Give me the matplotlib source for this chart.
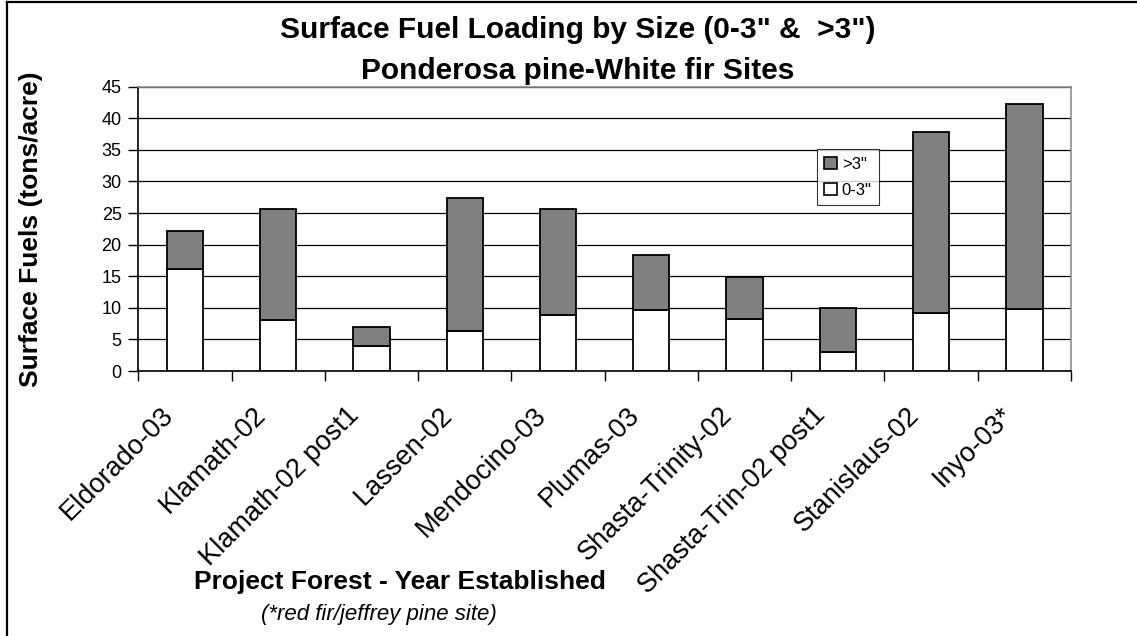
import matplotlib
matplotlib.use("Agg")
import matplotlib.pyplot as plt
import numpy as np
from matplotlib.lines import Line2D
from matplotlib.patches import Patch

plt.rcParams['font.family'] = ['Liberation Sans', 'DejaVu Sans']

# Surface fuel loading per site (tons/acre)
sites = ["Eldorado-03", "Klamath-02", "Klamath-02 post1", "Lassen-02", "Mendocino-03",
         "Plumas-03", "Shasta-Trinity-02", "Shasta-Trin-02 post1", "Stanislaus-02", "Inyo-03*"]
fine_0_3 = [16.2, 8.0, 4.0, 6.4, 8.8, 9.6, 8.2, 3.0, 9.2, 9.8]
coarse_gt3 = [6.0, 17.6, 3.0, 21.0, 16.9, 8.7, 6.7, 7.0, 28.6, 32.4]
y_ticks = [0, 5, 10, 15, 20, 25, 30, 35, 40, 45]

W, H = 1137, 636
fig = plt.figure(figsize=(W / 100, H / 100), dpi=100)
fig.patch.set_facecolor("white")


def fx(px):
    return px / W


def fy(py):
    return 1 - py / H


ax = fig.add_axes([fx(138.3), fy(371), fx(1071) - fx(138.3), fy(86.7) - fy(371)])

x = np.arange(len(sites))
bw = 0.39
ax.bar(x, fine_0_3, width=bw, color="white", edgecolor="black", linewidth=1.3, zorder=3)
ax.bar(x, coarse_gt3, width=bw, bottom=fine_0_3, color="#808080", edgecolor="black",
       linewidth=1.3, zorder=3)

ax.set_xlim(-0.5, len(sites) - 0.5)
ax.set_ylim(0, 45)
ax.set_yticks(y_ticks)
ax.set_yticklabels([str(v) for v in y_ticks], fontsize=13)
ax.yaxis.grid(True, color="black", linewidth=0.9, zorder=1)
ax.set_axisbelow(True)

# category boundaries carry the tick marks; the slanted labels end just left
# of each bar centre
label_offset = 0.17
ax.set_xticks(np.arange(len(sites) + 1) - 0.5)
ax.set_xticklabels([])
ax.set_xticks(x - label_offset, minor=True)
ax.set_xticklabels(sites, minor=True, fontsize=19.5, rotation=45, ha="right",
                   va="center", rotation_mode="anchor")
ax.tick_params(axis="x", which="major", direction="out", length=7, width=1, color="black")
ax.tick_params(axis="x", which="minor", length=0, pad=29)
ax.tick_params(axis="y", direction="out", length=7, width=1, color="black", pad=5)

for side in ("left", "bottom"):
    ax.spines[side].set_color("black")
    ax.spines[side].set_linewidth(1.2)
for side in ("top", "right"):
    ax.spines[side].set_color("#8c8c8c")
    ax.spines[side].set_linewidth(1.2)

# titles
fig.text(fx(578), fy(38), "Surface Fuel Loading by Size (0-3\" &  >3\")", ha="center",
         va="baseline", fontsize=21.5, fontweight="bold")
fig.text(fx(578), fy(79), "Ponderosa pine-White fir Sites", ha="center",
         va="baseline", fontsize=21.5, fontweight="bold")
fig.text(fx(31), fy(229), "Surface Fuels (tons/acre)", ha="center", va="center",
         rotation=90, fontsize=19, fontweight="bold")
fig.text(fx(400), fy(589), "Project Forest - Year Established", ha="center",
         va="baseline", fontsize=19, fontweight="bold")
fig.text(fx(379), fy(620), "(*red fir/jeffrey pine site)", ha="center",
         va="baseline", fontsize=16, style="italic")

# legend
handles = [Patch(facecolor="#808080", edgecolor="black", linewidth=1.2),
           Patch(facecolor="white", edgecolor="black", linewidth=1.2)]
leg = fig.legend(handles, ['>3"', '0-3"'], loc="upper left",
                 bbox_to_anchor=(fx(816.7), fy(149.3)), fontsize=12, frameon=True,
                 fancybox=False, handlelength=0.75, handleheight=0.75, handletextpad=0.3,
                 borderpad=0.45, labelspacing=0.65, borderaxespad=0)
leg.get_frame().set_edgecolor("black")
leg.get_frame().set_linewidth(0.8)

# outer chart frame
fig.add_artist(Line2D([fx(7), fx(7)], [0, fy(2)], color="black", linewidth=1.6))
fig.add_artist(Line2D([fx(7), 1], [fy(2), fy(2)], color="black", linewidth=1.6))

fig.savefig("out.png", dpi=100, facecolor="white")
